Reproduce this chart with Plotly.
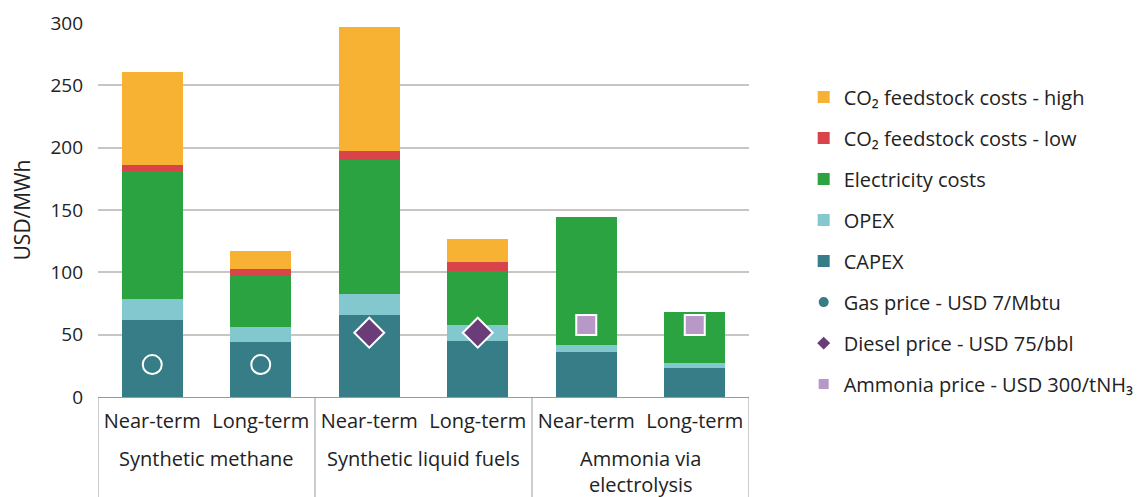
import plotly.graph_objects as go

groups = ["Synthetic methane", "Synthetic liquid fuels", "Ammonia via<br>electrolysis"]
terms = ["Near-term", "Long-term", "Near-term", "Long-term", "Near-term", "Long-term"]
group_of = [0, 0, 1, 1, 2, 2]

capex = [62, 44, 65.5, 45, 36, 23]
opex = [17, 12, 17, 13, 6, 4]
electricity = [102, 41, 108, 43, 102, 41]
co2_low = [5, 6, 7, 7.5, 0, 0]
co2_high = [75, 14, 99, 18, 0, 0]

gas_price = [26, 26, None, None, None, None]
diesel_price = [None, None, 51.6, 51.6, None, None]
ammonia_price = [None, None, None, None, 57.7, 57.7]

# unique category keys (group + term), displayed with the term only
cats = [f"{groups[g]} | {t}" for g, t in zip(group_of, terms)]
FONT = "Open Sans"
AXIS_GREY = "#9A9A9A"

fig = go.Figure()
bar_series = [
    ("CAPEX", capex, "#367D87"),
    ("OPEX", opex, "#84C8CF"),
    ("Electricity costs", electricity, "#2CA341"),
    ("CO₂ feedstock costs - low", co2_low, "#D8444A"),
    ("CO₂ feedstock costs - high", co2_high, "#F8B233"),
]
ranks = {"CO₂ feedstock costs - high": 1, "CO₂ feedstock costs - low": 2,
         "Electricity costs": 3, "OPEX": 4, "CAPEX": 5}
for name, vals, col in bar_series:
    fig.add_trace(go.Bar(x=cats, y=vals, name=name, marker=dict(color=col, line=dict(width=0)),
                         legendrank=ranks[name], legendgroup=name))

fig.add_trace(go.Scatter(x=cats, y=gas_price, mode="markers", name="Gas price - USD 7/Mbtu",
                         marker=dict(symbol="circle", size=19, color="#367D87",
                                     line=dict(color="white", width=2)),
                         legendrank=6, legendgroup="gas"))
fig.add_trace(go.Scatter(x=cats, y=diesel_price, mode="markers", name="Diesel price - USD 75/bbl",
                         marker=dict(symbol="diamond", size=23, color="#6B3D78",
                                     line=dict(color="white", width=2)),
                         legendrank=7, legendgroup="diesel"))
fig.add_trace(go.Scatter(x=cats, y=ammonia_price, mode="markers", name="Ammonia price - USD 300/tNH₃",
                         marker=dict(symbol="square", size=20, color="#B898C7",
                                     line=dict(color="white", width=2)),
                         legendrank=8, legendgroup="ammonia"))

# group labels and divider lines below the category axis
for gi, gname in enumerate(groups):
    members = [i for i, g in enumerate(group_of) if g == gi]
    centre = sum(members) / len(members)
    fig.add_annotation(x=centre, xref="x", y=-0.123, yref="paper", yanchor="top",
                       text=gname, showarrow=False, font=dict(size=20, color="#222222"))
boundaries = [-0.5] + [i + 0.5 for i in range(len(cats) - 1) if group_of[i] != group_of[i + 1]] + [len(cats) - 0.5]
for b in boundaries:
    fig.add_shape(type="line", x0=b, x1=b, xref="x", y0=0, y1=-0.3, yref="paper",
                  line=dict(color=AXIS_GREY, width=1))

fig.update_layout(
    barmode="stack",
    bargap=0.44,
    width=1143, height=497,
    margin=dict(l=90, r=398, t=15, b=108),
    plot_bgcolor="white", paper_bgcolor="white",
    font=dict(family=FONT, size=18, color="#222222"),
    showlegend=True,
    legend=dict(x=1.084, y=0.854, xanchor="left", yanchor="top",
                font=dict(size=20, color="#222222"), tracegroupgap=12,
                itemsizing="constant"),
)
fig.update_yaxes(range=[0, 300], dtick=50, showgrid=True, gridcolor="#C9C5C1", gridwidth=2,
                 zeroline=False, showline=False, ticks="", automargin=False,
                 ticklabelstandoff=14,
                 title=dict(text="USD/MWh", font=dict(size=21)),
                 tickfont=dict(size=19))
fig.update_xaxes(type="category", tickmode="array", tickvals=cats, ticktext=terms,
                 range=[-0.5, len(cats) - 0.5],
                 showline=True, linecolor=AXIS_GREY, linewidth=1, showgrid=False,
                 automargin=False, ticklabelstandoff=6,
                 tickfont=dict(size=20), ticks="")

fig.write_html("out.html")
